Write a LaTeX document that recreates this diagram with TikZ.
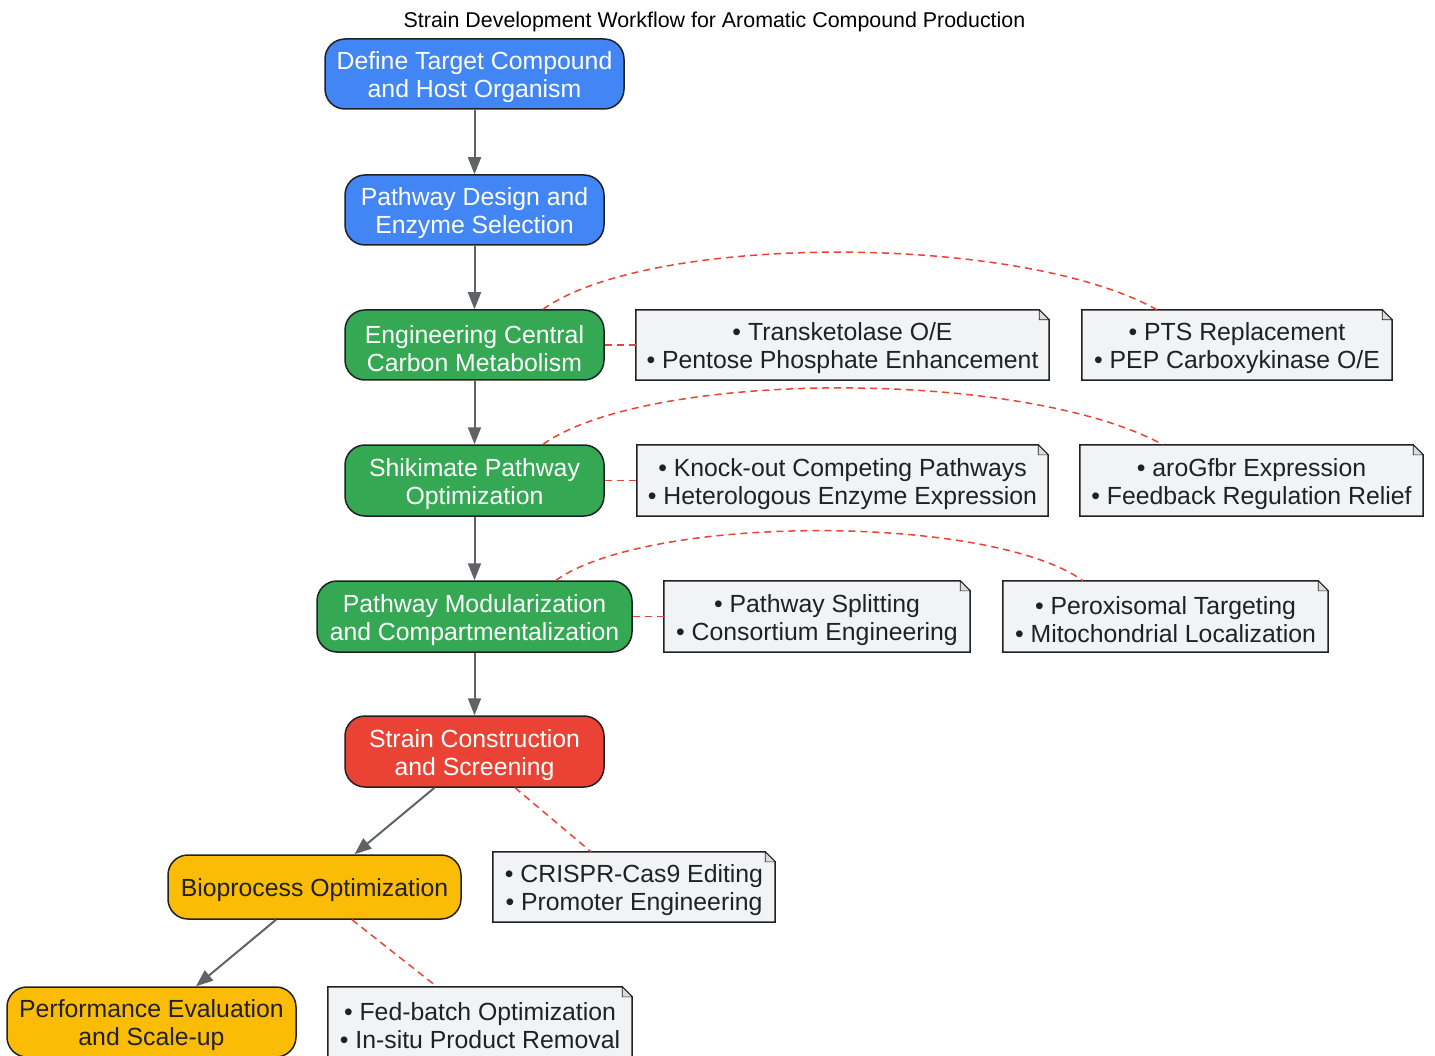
\documentclass[tikz,border=0pt]{standalone}
\usepackage{fontspec}
\setmainfont{Liberation Sans}
\usetikzlibrary{backgrounds,arrows.meta}
\definecolor{gblue}{HTML}{4285F4}
\definecolor{ggreen}{HTML}{34A853}
\definecolor{gred}{HTML}{EA4335}
\definecolor{gyellow}{HTML}{FBBC05}
\definecolor{edgec}{HTML}{202124}
\definecolor{arrowgray}{HTML}{5F6368}
\definecolor{dashred}{HTML}{EA4335}
\definecolor{notefill}{HTML}{F1F3F4}
\definecolor{notetext}{HTML}{202124}
\definecolor{foldfill}{HTML}{DADCE0}
\newcommand{\topst}{\rule{0pt}{25pt}}
\begin{document}
\begin{tikzpicture}[x=1pt,y=-1pt,
  proc/.style={draw=edgec, line width=1.5pt, rounded corners=20pt, text=white, align=center,
    font=\fontsize{24.8}{28}\selectfont, inner sep=0pt},
  notebox/.style={align=center, text=notetext, font=\fontsize{24.8}{28}\selectfont, inner sep=0pt},
  flow/.style={draw=arrowgray, line width=2pt, -{Triangle[length=17pt,width=13pt]}},
  link/.style={draw=dashred, line width=1.5pt, dash pattern=on 7pt off 5pt}
]
\useasboundingbox (0,0) rectangle (1435,1056);

\node[font=\fontsize{21.4}{24}\selectfont, text=black, inner sep=0pt] (title) at (714.5,21.5) {Strain Development Workflow for Aromatic Compound Production};

\node[proc, fill=gblue, minimum width=299pt, minimum height=70pt] (n1) at (474.5,74) {\topst Define Target Compound\\and Host Organism};
\node[proc, fill=gblue, minimum width=259pt, minimum height=70pt] (n2) at (474.5,210) {\topst Pathway Design and\\Enzyme Selection};
\node[proc, fill=ggreen, minimum width=259pt, minimum height=70pt] (n3) at (474.5,345) {\topst Engineering Central\\Carbon Metabolism};
\node[proc, fill=ggreen, minimum width=259pt, minimum height=71pt] (n4) at (474.5,480.5) {\topst Shikimate Pathway\\Optimization};
\node[proc, fill=ggreen, minimum width=315pt, minimum height=71pt] (n5) at (474.5,616.5) {\topst Pathway Modularization\\and Compartmentalization};
\node[proc, fill=gred, minimum width=259pt, minimum height=71pt] (n6) at (474.5,751.5) {\topst Strain Construction\\and Screening};
\node[proc, fill=gyellow, text=notetext, minimum width=293pt, minimum height=64pt] (n7) at (314.5,887) {\topst Bioprocess Optimization};
\node[proc, fill=gyellow, text=notetext, minimum width=289pt, minimum height=70pt] (n8) at (151.5,1022) {\topst Performance Evaluation\\and Scale-up};

\node[notebox, minimum width=413pt, minimum height=70pt] (a1) at (842.5,345) {\topst • Transketolase O/E\\• Pentose Phosphate Enhancement};
\node[notebox, minimum width=310pt, minimum height=70pt] (b1) at (1237,345) {\topst • PTS Replacement\\• PEP Carboxykinase O/E};
\node[notebox, minimum width=411pt, minimum height=71pt] (a2) at (842.5,480.5) {\topst • Knock-out Competing Pathways\\• Heterologous Enzyme Expression};
\node[notebox, minimum width=343pt, minimum height=71pt] (b2) at (1251.5,480.5) {\topst • aroGfbr Expression\\• Feedback Regulation Relief};
\node[notebox, minimum width=306pt, minimum height=71pt] (a3) at (817,616.5) {\topst • Pathway Splitting\\• Consortium Engineering};
\node[notebox, minimum width=325pt, minimum height=71pt] (b3) at (1165.5,616.5) {\topst • Peroxisomal Targeting\\• Mitochondrial Localization};
\node[notebox, minimum width=282pt, minimum height=70pt] (c1) at (634,887) {\topst • CRISPR-Cas9 Editing\\• Promoter Engineering};
\node[notebox, minimum width=304pt, minimum height=70pt] (c2) at (480,1022) {\topst • Fed-batch Optimization\\• In-situ Product Removal};

\begin{scope}[on background layer]
\foreach \n in {a1,b1,a2,b2,a3,b3,c1,c2}{
  \filldraw[fill=notefill, draw=edgec, line width=1.5pt]
    (\n.south west) -- (\n.north west) -- ([xshift=-10pt]\n.north east)
    -- ([yshift=-10pt]\n.north east) -- (\n.south east) -- cycle;
  \filldraw[fill=foldfill, draw=edgec, line width=0.6pt]
    ([xshift=-10pt]\n.north east) -- ([xshift=-10pt,yshift=-10pt]\n.north east)
    -- ([yshift=-10pt]\n.north east) -- cycle;
}
\end{scope}

\draw[flow] (n1) -- (n2);
\draw[flow] (n2) -- (n3);
\draw[flow] (n3) -- (n4);
\draw[flow] (n4) -- (n5);
\draw[flow] (n5) -- (n6);
\draw[flow] ([xshift=-40pt]n6.south) -- ([xshift=40pt]n7.north);
\draw[flow] ([xshift=-38.5pt]n7.south) -- ([xshift=44.5pt]n8.north);

\draw[link] (n3.east) -- (a1.west);
\draw[link] ([xshift=68.5pt]n3.north) .. controls (650,233) and (1020,233) .. ([xshift=-80pt]b1.north);
\draw[link] (n4.east) -- (a2.west);
\draw[link] ([xshift=68.5pt]n4.north) .. controls (650,369) and (1025,369) .. ([xshift=-88.5pt]b2.north);
\draw[link] (n5.east) -- (a3.west);
\draw[link] ([xshift=81.5pt]n5.north) .. controls (650,514) and (990,514) .. ([xshift=-82.5pt]b3.north);
\draw[link] ([xshift=40.5pt]n6.south) -- ([xshift=-43pt]c1.north);
\draw[link] ([xshift=37.5pt]n7.south) -- ([xshift=-43pt]c2.north);
\end{tikzpicture}
\end{document}
